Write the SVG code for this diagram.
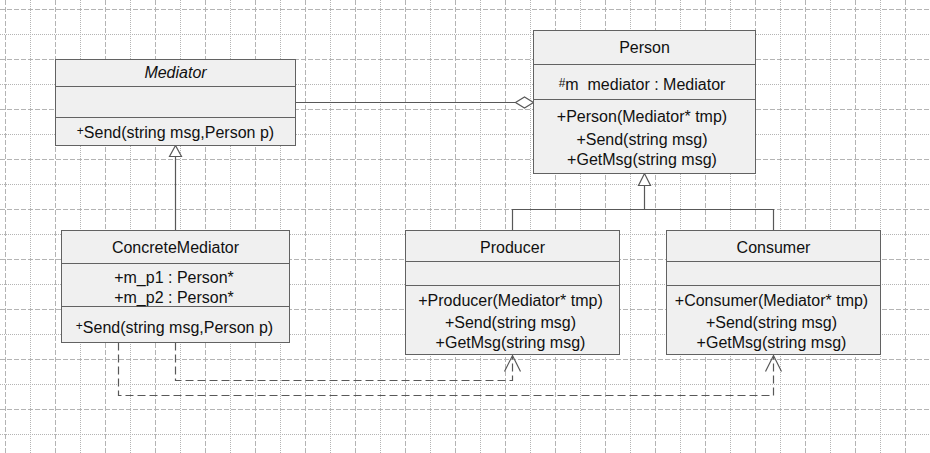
<svg xmlns="http://www.w3.org/2000/svg" width="930" height="453" viewBox="0 0 930 453">
<style>
.bg{fill:#ffffff}
.gmaj{fill:none;stroke:#b4b4b4;stroke-width:1;stroke-dasharray:5,2}
.gmin{fill:none;stroke:#b4b4b4;stroke-width:1;stroke-dasharray:1,1}
.box{fill:#f0f0f0;stroke:#626262;stroke-width:1}
.div{fill:none;stroke:#626262;stroke-width:1}
.t{font-family:"Liberation Sans",Arial,sans-serif;font-size:16px;fill:#111111;text-anchor:middle}
.it{font-style:italic}
.sm{font-size:12px}
.ln{fill:none;stroke:#585858;stroke-width:1.2}
.dash{fill:none;stroke:#585858;stroke-width:1.2;stroke-dasharray:8,4}
.head{fill:#ffffff;stroke:#585858;stroke-width:1.2}
.open{fill:none;stroke:#585858;stroke-width:1.2}
</style>
<rect class="bg" x="0" y="0" width="930" height="453"/>
<g id="grid">
<path class="gmin" d="M30.5 0V453M80.5 0V453M130.5 0V453M180.5 0V453M230.5 0V453M280.5 0V453M330.5 0V453M380.5 0V453M430.5 0V453M480.5 0V453M530.5 0V453M580.5 0V453M630.5 0V453M680.5 0V453M730.5 0V453M780.5 0V453M830.5 0V453M880.5 0V453M0 34.5H930M0 84.5H930M0 134.5H930M0 184.5H930M0 234.5H930M0 284.5H930M0 334.5H930M0 384.5H930M0 434.5H930"/>
<path class="gmaj" d="M5.5 0V453M55.5 0V453M105.5 0V453M155.5 0V453M205.5 0V453M255.5 0V453M305.5 0V453M355.5 0V453M405.5 0V453M455.5 0V453M505.5 0V453M555.5 0V453M605.5 0V453M655.5 0V453M705.5 0V453M755.5 0V453M805.5 0V453M855.5 0V453M905.5 0V453M0 9.5H930M0 59.5H930M0 109.5H930M0 159.5H930M0 209.5H930M0 259.5H930M0 309.5H930M0 359.5H930M0 409.5H930"/>
</g>
<g id="connectors">
<path class="ln" d="M295.5 102.5H515.5"/>
<polygon class="head" points="533.5,102.5 524.5,97 515.5,102.5 524.5,108"/>
<path class="ln" d="M175.5 230.5V156.5"/>
<polygon class="head" points="175.5,145.5 169.5,156.5 181.5,156.5"/>
<path class="ln" d="M512.5 230.5V209.5H773.5V230.5M644.5 209.5V185.5"/>
<polygon class="head" points="644.5,173.5 638.5,185.5 650.5,185.5"/>
<path class="dash" d="M175.5 342.5V380.5H512.5V357"/>
<path class="open" d="M504.5 371.5L512.5 355.5L520.5 371.5"/>
<path class="dash" d="M118.5 342.5V395.5H773.5V357"/>
<path class="open" d="M765.5 371.5L773.5 355.5L781.5 371.5"/>
</g>
<g id="Mediator">
<rect class="box" x="55.5" y="59.5" width="240" height="86"/>
<path class="div" d="M55.5 86.5H295.5M55.5 117.5H295.5"/>
<text class="t it" x="175.5" y="77.5">Mediator</text>
<text class="t" x="175.5" y="137.5"><tspan class="sm" dy="-3">+</tspan><tspan dy="3">Send(string msg,Person p)</tspan></text>
</g>
<g id="Person">
<rect class="box" x="533.5" y="30.5" width="222" height="143"/>
<path class="div" d="M533.5 64.5H755.5M533.5 99.5H755.5"/>
<text class="t" x="644.5" y="53">Person</text>
<text class="t" x="642" y="90" xml:space="preserve"><tspan class="sm" dy="-3">#</tspan><tspan dy="3">m  mediator : Mediator</tspan></text>
<text class="t" x="642" y="122">+Person(Mediator* tmp)</text>
<text class="t" x="642" y="145">+Send(string msg)</text>
<text class="t" x="642" y="165">+GetMsg(string msg)</text>
</g>
<g id="ConcreteMediator">
<rect class="box" x="61.5" y="230.5" width="228" height="112"/>
<path class="div" d="M61.5 263.5H289.5M61.5 306.5H289.5"/>
<text class="t" x="175.5" y="252.5">ConcreteMediator</text>
<text class="t" x="174" y="283">+m_p1 : Person*</text>
<text class="t" x="174" y="302.5">+m_p2 : Person*</text>
<text class="t" x="174.5" y="333"><tspan class="sm" dy="-3">+</tspan><tspan dy="3">Send(string msg,Person p)</tspan></text>
</g>
<g id="Producer">
<rect class="box" x="405.5" y="230.5" width="214" height="124"/>
<path class="div" d="M405.5 261.5H619.5M405.5 285.5H619.5"/>
<text class="t" x="512.5" y="252.5">Producer</text>
<text class="t" x="510.5" y="305.5">+Producer(Mediator* tmp)</text>
<text class="t" x="510.5" y="327.5">+Send(string msg)</text>
<text class="t" x="510.5" y="347.5">+GetMsg(string msg)</text>
</g>
<g id="Consumer">
<rect class="box" x="666.5" y="230.5" width="214" height="124"/>
<path class="div" d="M666.5 261.5H880.5M666.5 285.5H880.5"/>
<text class="t" x="773.5" y="252.5">Consumer</text>
<text class="t" x="771.5" y="305.5">+Consumer(Mediator* tmp)</text>
<text class="t" x="771.5" y="327.5">+Send(string msg)</text>
<text class="t" x="771.5" y="347.5">+GetMsg(string msg)</text>
</g>
</svg>
